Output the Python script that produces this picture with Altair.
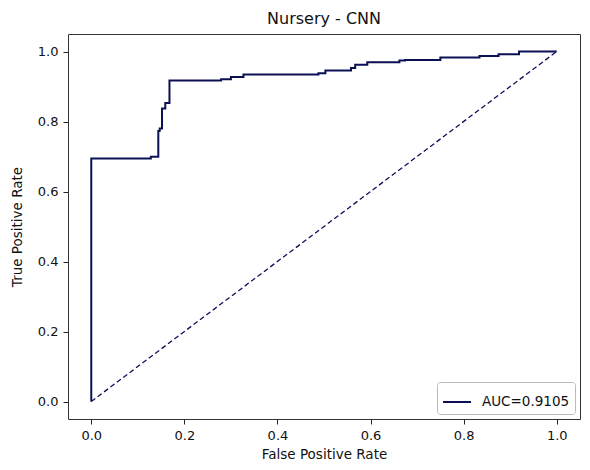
import altair as alt
import pandas as pd

fpr = [0.0, 0.0, 0.128, 0.144, 0.147, 0.152, 0.159, 0.168, 0.279, 0.300, 0.327,
       0.488, 0.503, 0.558, 0.567, 0.593, 0.662, 0.674, 0.750, 0.834, 0.875, 0.919, 1.0]
tpr = [0.0, 0.694, 0.699, 0.773, 0.780, 0.837, 0.853, 0.917, 0.921, 0.927, 0.934,
       0.938, 0.946, 0.953, 0.962, 0.969, 0.974, 0.976, 0.983, 0.987, 0.992, 1.0, 1.0]
diag_x = [0.0, 1.0]
diag_y = [0.0, 1.0]
ticks = [0.0, 0.2, 0.4, 0.6, 0.8, 1.0]
label = "AUC=0.9105"
title = "Nursery - CNN"

LINE = "#0b1054"
FONT = "DejaVu Sans"

roc = pd.DataFrame({"fpr": fpr, "tpr": tpr, "series": [label] * len(fpr), "order": list(range(len(fpr)))})
diag = pd.DataFrame({"fpr": diag_x, "tpr": diag_y})

xscale = alt.Scale(domain=[-0.05, 1.05], nice=False, zero=False)
yscale = alt.Scale(domain=[-0.05, 1.05], nice=False, zero=False)
xaxis = alt.Axis(values=ticks, format=".1f", title="False Positive Rate", grid=False)
yaxis = alt.Axis(values=ticks, format=".1f", title="True Positive Rate", grid=False)

line = alt.Chart(roc).mark_line(interpolate="step-after", strokeWidth=2).encode(
    x=alt.X("fpr:Q", scale=xscale, axis=xaxis),
    y=alt.Y("tpr:Q", scale=yscale, axis=yaxis),
    order="order:O",
    color=alt.Color("series:N", scale=alt.Scale(domain=[label], range=[LINE]),
                    legend=alt.Legend(title=None, orient="bottom-right", offset=5,
                                      symbolType="stroke", symbolSize=784,
                                      symbolStrokeWidth=2, labelFontSize=13.5,
                                      labelOffset=10,
                                      labelFont=FONT, labelColor="#111",
                                      strokeColor="#bbbbbb", fillColor="white",
                                      cornerRadius=3, padding=5)),
)

dash = alt.Chart(diag).mark_line(strokeDash=[5, 3], strokeWidth=1.3, color=LINE).encode(
    x=alt.X("fpr:Q", scale=xscale),
    y=alt.Y("tpr:Q", scale=yscale),
)

chart = alt.layer(line, dash).properties(
    width=512, height=385,
    title=alt.TitleParams(title, fontSize=16, font=FONT, fontWeight="normal", color="#111", offset=7),
    autosize=alt.AutoSizeParams(type="none"),
    padding={"left": 60, "top": 26, "right": 2, "bottom": 42},
).configure_view(stroke="#333", strokeWidth=1).configure_axis(
    domain=False, tickColor="#222", tickSize=5, labelFont=FONT, titleFont=FONT,
    labelFontSize=13, titleFontSize=13.5, labelColor="#111", titleColor="#111",
    titleFontWeight="normal", labelPadding=5,
).configure_axisY(titlePadding=13).configure_axisX(titlePadding=5)

chart.save("out.html", embed_options={"renderer": "svg", "actions": False})
